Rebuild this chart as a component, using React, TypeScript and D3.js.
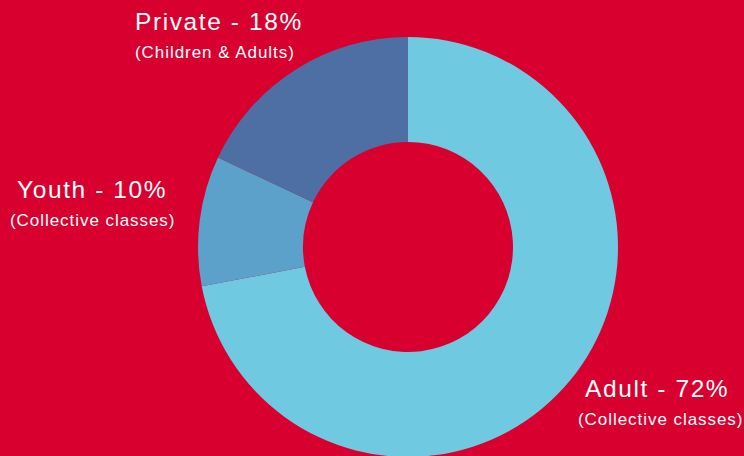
import * as React from "react";
import * as d3 from "d3";

const categories = ["Adult", "Youth", "Private"];
const values = [72, 10, 18];
const subLabels = ["(Collective classes)", "(Collective classes)", "(Children & Adults)"];
const colors = ["#6EC9E1", "#5BA1CA", "#4E6FA3"];

export default function App() {
  const ref = React.useRef<SVGSVGElement>(null);

  React.useEffect(() => {
    const svg = d3.select(ref.current);
    svg.selectAll("*").remove();

    const width = 744;
    const height = 456;
    const cx = 408;
    const cy = 247;
    const outer = 210;
    const inner = 105;

    svg.append("rect").attr("width", width).attr("height", height).attr("fill", "#D7002F");

    const pie = d3.pie<number>().sort(null).value((d) => d);
    const arc = d3.arc<d3.PieArcDatum<number>>().innerRadius(inner).outerRadius(outer);

    const g = svg.append("g").attr("transform", `translate(${cx},${cy})`);
    g.selectAll("path")
      .data(pie(values))
      .enter()
      .append("path")
      .attr("d", arc)
      .attr("fill", (_d, i) => colors[i]);

    // label anchors (baseline of main line and sub line)
    const labelPos = [
      { x: 585, y: 397, sx: 578, sy: 425 },
      { x: 17, y: 198, sx: 10, sy: 226 },
      { x: 135, y: 30, sx: 135, sy: 58 },
    ];

    categories.forEach((c, i) => {
      const p = labelPos[i];
      svg
        .append("text")
        .attr("x", p.x)
        .attr("y", p.y)
        .attr("fill", "#fff")
        .attr("font-family", "Liberation Sans, Arial, sans-serif")
        .attr("font-size", 24.5)
        .attr("letter-spacing", 1.6)
        .text(`${c} - ${values[i]}%`);
      svg
        .append("text")
        .attr("x", p.sx)
        .attr("y", p.sy)
        .attr("fill", "#fff")
        .attr("font-family", "Liberation Sans, Arial, sans-serif")
        .attr("font-size", 17)
        .attr("letter-spacing", 0.95)
        .text(subLabels[i]);
    });
  }, []);

  return (
    <svg
      ref={ref}
      width={744}
      height={456}
      style={{ position: "fixed", left: 0, top: 0, display: "block" }}
    />
  );
}
